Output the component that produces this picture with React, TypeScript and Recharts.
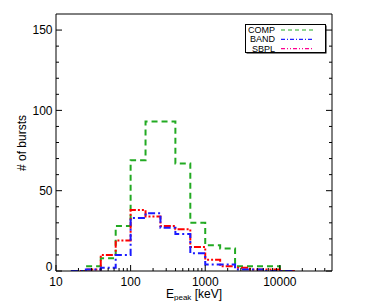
import { LineChart, Line, XAxis, YAxis } from 'recharts';

// log-spaced bins, 5 per decade
const binEdges = [15.85, 25.12, 39.81, 63.1, 100, 158.5, 251.2, 398.1, 631, 1000, 1585, 2512, 3981, 6310, 10000, 15849];
const compCounts = [0, 3, 8, 28, 69, 93, 93, 67, 30, 16, 14, 3, 3, 3, 0];
const bandCounts = [0, 1, 2, 10, 33, 36, 27, 23, 11, 4, 4, 1, 1, 0, 0];
const sbplCounts = [0, 1, 10, 19, 38, 34, 28, 26, 15, 7, 3, 2, 1, 1, 0];

const xMajorTicks = [10, 100, 1000, 10000];
const xMinorSteps = [2, 3, 4, 5, 6, 7, 8, 9];
const yMajorTicks = [0, 50, 100, 150];
const yMinorTicks = [10, 20, 30, 40, 60, 70, 80, 90, 110, 120, 130, 140];

const xTicks = [
    ...xMajorTicks,
    ...xMajorTicks.flatMap((d) => xMinorSteps.map((s) => s * d)).filter((v) => v < 50000),
];
const yTicks = [...yMajorTicks, ...yMinorTicks];

const toSteps = (counts: number[]) =>
    binEdges.map((e, i) => ({ e, n: i < counts.length ? counts[i] : 0 }));

const FONT = '"Liberation Sans", Arial, sans-serif';

const BottomTick = (props: any) => {
    const { x, y, payload } = props;
    const major = xMajorTicks.includes(payload.value);
    return (
        <g>
            <line x1={x} x2={x} y1={y} y2={y - (major ? 6 : 3)} stroke="#000" />
            {major && (
                <text x={x} y={y + 14.5} textAnchor="middle" fontSize={12} fontFamily={FONT} fill="#000">
                    {payload.value}
                </text>
            )}
        </g>
    );
};

const TopTick = (props: any) => {
    const { x, y, payload } = props;
    const major = xMajorTicks.includes(payload.value);
    return <line x1={x} x2={x} y1={y} y2={y + (major ? 6 : 3)} stroke="#000" />;
};

const LeftTick = (props: any) => {
    const { x, y, payload } = props;
    const major = yMajorTicks.includes(payload.value);
    // the bottom label sits on the axis rather than centred on it
    const ty = payload.value === 0 ? y : y + 4.3;
    return (
        <g>
            <line x1={x} x2={x + (major ? 6 : 3)} y1={y} y2={y} stroke="#000" />
            {major && (
                <text x={x - 3.5} y={ty} textAnchor="end" fontSize={12} fontFamily={FONT} fill="#000">
                    {payload.value}
                </text>
            )}
        </g>
    );
};

const RightTick = (props: any) => {
    const { x, y, payload } = props;
    const major = yMajorTicks.includes(payload.value);
    return <line x1={x} x2={x - (major ? 6 : 3)} y1={y} y2={y} stroke="#000" />;
};

const legendItems = [
    { name: 'COMP', color: '#22aa22', dash: '4 3' },
    { name: 'BAND', color: '#2020ff', dash: '4 2 1 2' },
    { name: 'SBPL', color: '#ff0090', dash: '4 2 1 2 1 2' },
];

const axisCommon = {
    interval: 0 as const,
    tickSize: 0,
    tickMargin: 0,
    tickLine: false,
    allowDataOverflow: true,
    axisLine: { stroke: '#000' },
};

export default function App() {
    return (
        <div style={{ position: 'absolute', left: 0, top: 0, width: 369, height: 301, background: '#fff' }}>
            <LineChart width={369} height={301} margin={{ top: 13, right: 36, bottom: 29, left: 55 }}>
                <XAxis xAxisId="b" dataKey="e" type="number" scale="log" domain={[10, 50000]}
                    ticks={xTicks} tick={BottomTick} height={1} {...axisCommon} />
                <XAxis xAxisId="t" orientation="top" type="number" scale="log" domain={[10, 50000]}
                    ticks={xTicks} tick={TopTick} height={1} {...axisCommon} />
                <YAxis yAxisId="l" type="number" domain={[0, 160]}
                    ticks={yTicks} tick={LeftTick} width={1} {...axisCommon} />
                <YAxis yAxisId="r" orientation="right" type="number" domain={[0, 160]}
                    ticks={yTicks} tick={RightTick} width={1} {...axisCommon} />
                <Line xAxisId="b" yAxisId="l" data={toSteps(compCounts)} dataKey="n" type="stepAfter"
                    stroke="#22aa22" strokeWidth={2} strokeDasharray="6 4" dot={false} isAnimationActive={false} />
                <Line xAxisId="b" yAxisId="l" data={toSteps(sbplCounts)} dataKey="n" type="stepAfter"
                    stroke="#ff0000" strokeWidth={2} strokeDasharray="7 2 2 2 2 2" dot={false} isAnimationActive={false} />
                <Line xAxisId="b" yAxisId="l" data={toSteps(bandCounts)} dataKey="n" type="stepAfter"
                    stroke="#1a1aff" strokeWidth={2} strokeDasharray="7 3 2 3" dot={false} isAnimationActive={false} />
            </LineChart>
            <svg width={369} height={301} style={{ position: 'absolute', left: 0, top: 0, pointerEvents: 'none' }}>
                <text x={22} y={143} transform="rotate(-90 22 143)" textAnchor="middle" dominantBaseline="central"
                    fontSize={12} fontFamily={FONT} fill="#000">
                    # of bursts
                </text>
                <text x={194} y={298} textAnchor="middle" fontSize={12} fontFamily={FONT} fill="#000">
                    E<tspan fontSize={8} dy={2}>peak</tspan><tspan dy={-2}> [keV]</tspan>
                </text>
                <rect x={246.5} y={25.5} width={80} height={28} fill="#000" />
                <rect x={245.5} y={24.5} width={80} height={28} fill="#fff" stroke="#000" />
                {legendItems.map((it, i) => (
                    <g key={it.name}>
                        <text x={275} y={33} textAnchor="end" dy={i * 9.3} fontSize={9} fontFamily={FONT} fill="#000">
                            {it.name}
                        </text>
                        <line x1={281} x2={314} y1={30 + i * 9.3} y2={30 + i * 9.3} stroke={it.color}
                            strokeWidth={1.2} strokeDasharray={it.dash} />
                    </g>
                ))}
            </svg>
        </div>
    );
}
